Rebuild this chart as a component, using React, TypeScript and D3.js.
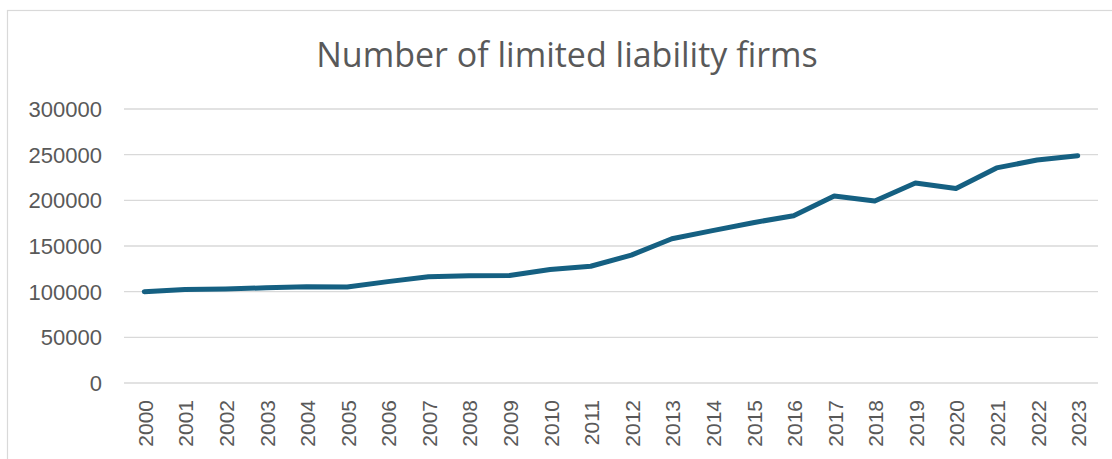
import React from "react";
import * as d3 from "d3";

const years: string[] = [
  "2000", "2001", "2002", "2003", "2004", "2005", "2006", "2007", "2008", "2009", "2010", "2011",
  "2012", "2013", "2014", "2015", "2016", "2017", "2018", "2019", "2020", "2021", "2022", "2023",
];
const firms: number[] = [
  100000, 102500, 103000, 104200, 105300, 105200, 111000, 116300, 117500, 117800, 124200, 127800,
  140000, 158000, 166800, 175500, 183200, 204800, 199200, 219000, 213000, 235500, 244200, 248800,
];
const yTicks: number[] = [0, 50000, 100000, 150000, 200000, 250000, 300000];
const title = "Number of limited liability firms";

const W = 1112;
const H = 459;
const plot = { left: 124, right: 1098, top: 109, bottom: 383 };

export default function App() {
  const x = d3.scaleBand<string>().domain(years).range([plot.left, plot.right]);
  const y = d3.scaleLinear().domain([0, 300000]).range([plot.bottom, plot.top]);
  const line = d3
    .line<number>()
    .x((_, i) => (x(years[i]) as number) + x.bandwidth() / 2)
    .y((d) => y(d));
  const textColor = "#595959";
  return (
    <svg
      width={W}
      height={H}
      style={{ position: "absolute", left: 0, top: 0, background: "#fff" }}
    >
      <rect x={7.5} y={10.5} width={W + 20} height={H + 20} fill="#fff" stroke="#d9d9d9" strokeWidth={1.2} />
      <text
        x={567}
        y={67}
        textAnchor="middle"
        fill={textColor}
        style={{ fontFamily: "'Open Sans', 'Liberation Sans', sans-serif", fontSize: 34 }}
      >
        {title}
      </text>
      {yTicks.map((t) => (
        <g key={t}>
          <line x1={plot.left} x2={plot.right} y1={y(t)} y2={y(t)} stroke="#d9d9d9" strokeWidth={1.3} />
          <text
            x={102}
            y={y(t)}
            dy="0.36em"
            textAnchor="end"
            fill={textColor}
            style={{ fontFamily: "'Liberation Sans', Arial, sans-serif", fontSize: 22 }}
          >
            {t}
          </text>
        </g>
      ))}
      {years.map((yr) => {
        const cx = (x(yr) as number) + x.bandwidth() / 2;
        return (
          <text
            key={yr}
            transform={`translate(${cx + 8.5},${400}) rotate(-90)`}
            textAnchor="end"
            fill={textColor}
            style={{ fontFamily: "'Liberation Sans', Arial, sans-serif", fontSize: 21 }}
          >
            {yr}
          </text>
        );
      })}
      <path
        d={line(firms) || ""}
        fill="none"
        stroke="#156082"
        strokeWidth={5}
        strokeLinecap="round"
        strokeLinejoin="round"
      />
    </svg>
  );
}
